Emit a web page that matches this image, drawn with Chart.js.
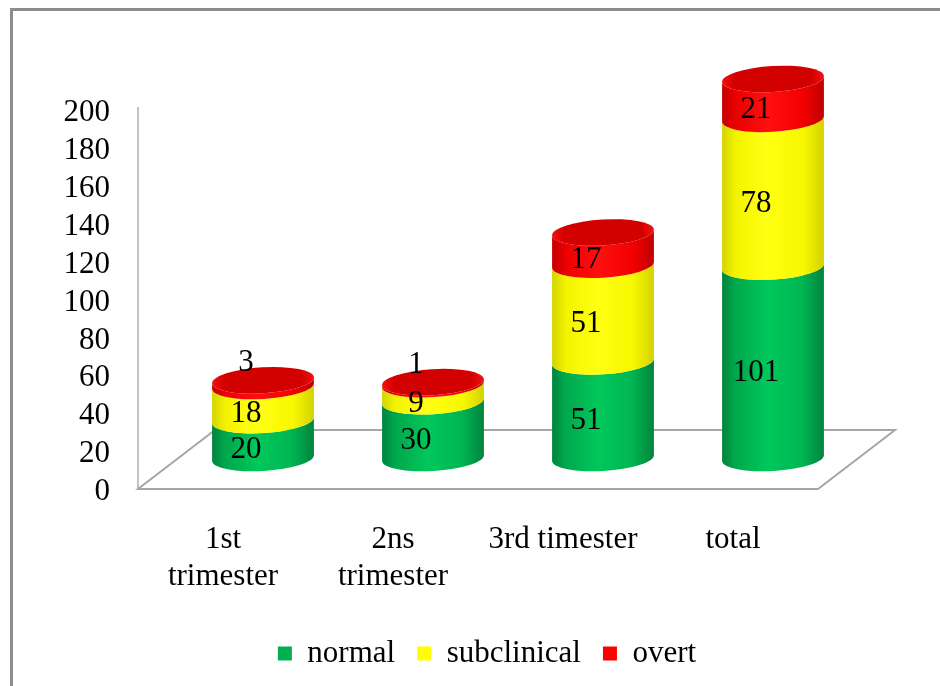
<!DOCTYPE html>
<html>
<head>
<meta charset="utf-8">
<script src="https://cdn.jsdelivr.net/npm/chart.js@4.4.1/dist/chart.umd.min.js"></script>
<style>
  html, body { margin: 0; padding: 0; background: #ffffff; }
  #wrap { position: relative; width: 940px; height: 686px; overflow: hidden; }
  #frame { position: absolute; left: 10px; top: 8px; right: -10px; bottom: -10px;
           border-left: 3px solid #8c8c8c; border-top: 3px solid #8c8c8c; pointer-events: none; }
  canvas { position: absolute; left: 0; top: 0; }
</style>
</head>
<body>
<div id="wrap">
  <canvas id="chart" width="940" height="686"></canvas>
  <div id="frame"></div>
</div>
<script>
// Categories (x axis) and the three stacked series
const categories = [["1st", "trimester"], ["2ns", "trimester"], "3rd timester", "total"];
const normalValues = [20, 30, 51, 101];
const subclinicalValues = [18, 9, 51, 78];
const overtValues = [3, 1, 17, 21];
const seriesNames = ["normal", "subclinical", "overt"];
const yTicksMax = 200;
const yTicksStep = 20;

const FONT = "'Liberation Serif', 'Times New Roman', serif";

// Cylinder look: side gradients per series, plus colour of the top cap
const sideStops = [
  [[0, '#00823c'], [0.12, '#00a64b'], [0.45, '#00c85b'], [0.78, '#00b653'], [1, '#00843d']],
  [[0, '#d4d400'], [0.14, '#f4f400'], [0.45, '#ffff12'], [0.8, '#f7f700'], [1, '#d2d200']],
  [[0, '#c40000'], [0.14, '#ec0000'], [0.45, '#ff0f0f'], [0.8, '#f20000'], [1, '#be0000']]
];
const capStops = [
  ['#00b552', '#009a46'],
  ['#ffff30', '#e8e800'],
  ['#d30000', '#f41010']
];

// Pseudo-3D offsets: cylinders stand in the middle of the floor depth
const DEPTH_DX = 40, DEPTH_DY = -31;
const FLOOR_DX = 77, FLOOR_DY = -59;
const RY = 13, ROT = -0.06;
const LABEL_DROP = 11;
const LEGEND_SHIFT = 9;

function sideGradient(ctx, x0, x1, stops) {
  const g = ctx.createLinearGradient(x0, 0, x1, 0);
  stops.forEach(s => g.addColorStop(s[0], s[1]));
  return g;
}

const cylinderPlugin = {
  id: 'cylinders3d',
  afterLayout(chart) {
    // nudge the legend row to the right, under the plot floor
    if (chart.legend) {
      chart.legend.left += LEGEND_SHIFT;
      chart.legend.right += LEGEND_SHIFT;
    }
  },
  beforeDatasetsDraw(chart) {
    const ctx = chart.ctx;
    const a = chart.chartArea;

    // floor and wall edge
    ctx.save();
    ctx.lineWidth = 2;
    ctx.strokeStyle = '#c4c4c4';
    ctx.beginPath();
    ctx.moveTo(a.left, a.bottom);
    ctx.lineTo(a.left, a.top - 3);
    ctx.stroke();
    ctx.strokeStyle = '#a6a6a6';
    ctx.beginPath();
    ctx.moveTo(a.left, a.bottom);
    ctx.lineTo(a.right, a.bottom);
    ctx.lineTo(a.right + FLOOR_DX, a.bottom + FLOOR_DY);
    ctx.lineTo(a.left + FLOOR_DX, a.bottom + FLOOR_DY);
    ctx.closePath();
    ctx.stroke();
    ctx.restore();

    const nSets = chart.data.datasets.length;
    const nCats = chart.data.labels.length;

    for (let j = 0; j < nCats; j++) {
      let topY = null, topX = null, topRx = null, topSet = 0;
      for (let i = 0; i < nSets; i++) {
        const el = chart.getDatasetMeta(i).data[j];
        const cx = el.x + DEPTH_DX;
        const rx = el.width / 2;
        const yT = el.y + DEPTH_DY;
        const yB = el.base + DEPTH_DY;
        ctx.save();
        ctx.beginPath();
        ctx.ellipse(cx, yB, rx, RY, ROT, 0, Math.PI, false);
        ctx.ellipse(cx, yT, rx, RY, ROT, Math.PI, 0, true);
        ctx.closePath();
        ctx.fillStyle = sideGradient(ctx, cx - rx, cx + rx, sideStops[i]);
        ctx.fill();
        ctx.restore();
        topY = yT; topX = cx; topRx = rx; topSet = i;
      }
      // top cap
      ctx.save();
      const g = ctx.createRadialGradient(topX, topY, 2, topX, topY, topRx);
      g.addColorStop(0, capStops[topSet][0]);
      g.addColorStop(0.75, capStops[topSet][0]);
      g.addColorStop(1, capStops[topSet][1]);
      ctx.beginPath();
      ctx.ellipse(topX, topY, topRx, RY, ROT, 0, Math.PI * 2);
      ctx.fillStyle = g;
      ctx.fill();
      ctx.restore();
    }

    // value labels
    ctx.save();
    ctx.font = '31px ' + FONT;
    ctx.fillStyle = '#000000';
    ctx.textAlign = 'center';
    ctx.textBaseline = 'middle';
    for (let j = 0; j < nCats; j++) {
      const topEl = chart.getDatasetMeta(nSets - 1).data[j];
      const stackTop = topEl.y + DEPTH_DY;
      for (let i = 0; i < nSets; i++) {
        const el = chart.getDatasetMeta(i).data[j];
        const v = chart.data.datasets[i].data[j];
        const yT = el.y + DEPTH_DY;
        const yB = el.base + DEPTH_DY;
        const x = el.x + DEPTH_DX - 17;
        let y;
        if (yB - yT < 12) {
          y = stackTop - 17;
        } else {
          y = (yT + yB) / 2 + LABEL_DROP;
        }
        ctx.fillText(String(v), x, y);
      }
    }
    ctx.restore();
    return false;
  }
};

const chart = new Chart(document.getElementById('chart'), {
  type: 'bar',
  data: {
    labels: categories,
    datasets: [
      { label: seriesNames[0], data: normalValues, backgroundColor: '#00b050' },
      { label: seriesNames[1], data: subclinicalValues, backgroundColor: '#ffff00' },
      { label: seriesNames[2], data: overtValues, backgroundColor: '#ff0000' }
    ]
  },
  options: {
    responsive: false,
    animation: false,
    devicePixelRatio: 1,
    barPercentage: 0.6,
    categoryPercentage: 1.0,
    layout: { padding: { left: 0, right: 122, top: 110, bottom: 7 } },
    plugins: {
      legend: {
        position: 'bottom',
        fullSize: false,
        labels: {
          boxWidth: 14,
          boxHeight: 14,
          padding: 22,
          color: '#000000',
          font: { family: FONT, size: 31 }
        }
      },
      tooltip: { enabled: false }
    },
    scales: {
      x: {
        stacked: true,
        grid: { display: false },
        border: { display: false },
        ticks: {
          color: '#000000',
          font: { family: FONT, size: 31 },
          padding: 24,
          maxRotation: 0,
          autoSkip: false
        },
        afterFit(scale) { scale.height = 127; }
      },
      y: {
        stacked: true,
        min: 0,
        max: yTicksMax,
        grid: { display: false, drawTicks: false },
        border: { display: false },
        ticks: {
          stepSize: yTicksStep,
          color: '#000000',
          font: { family: FONT, size: 31 },
          padding: 28,
          labelOffset: 3,
          autoSkip: false
        },
        afterFit(scale) { scale.width = 138; }
      }
    }
  },
  plugins: [cylinderPlugin]
});
</script>
</body>
</html>
